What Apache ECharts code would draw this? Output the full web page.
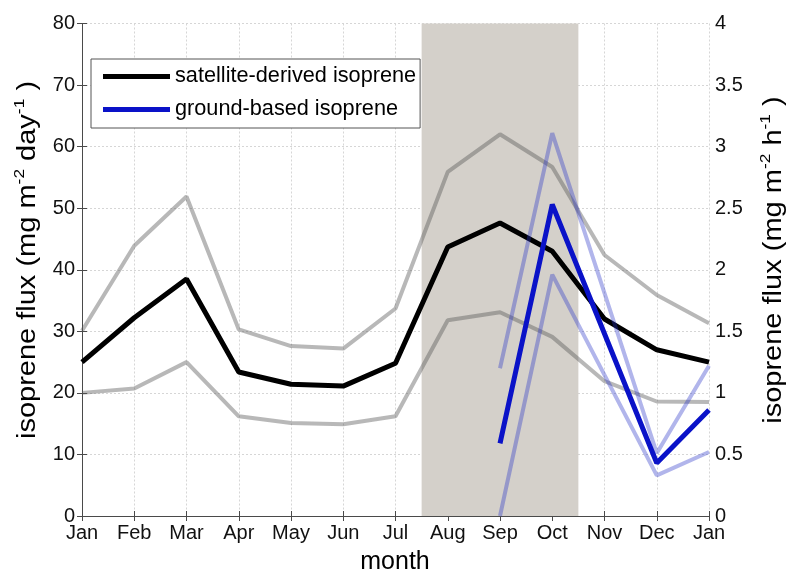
<!DOCTYPE html>
<html>
<head>
<meta charset="utf-8">
<script src="https://cdn.jsdelivr.net/npm/echarts@6/dist/echarts.min.js"></script>
<style>
html,body{margin:0;padding:0;background:#fff;}
#chart{width:787px;height:573px;}
</style>
</head>
<body>
<div id="chart"></div>
<script>
const months = ['Jan','Feb','Mar','Apr','May','Jun','Jul','Aug','Sep','Oct','Nov','Dec','Jan'];
const satMean  = [25.0, 32.2, 38.5, 23.4, 21.4, 21.1, 24.8, 43.7, 47.6, 43.0, 32.0, 27.0, 25.0];
const satUpper = [30.1, 43.9, 51.9, 30.3, 27.6, 27.2, 33.7, 55.9, 62.0, 56.7, 42.4, 35.9, 31.3];
const satLower = [20.0, 20.7, 25.0, 16.2, 15.1, 14.9, 16.2, 31.8, 33.1, 29.1, 21.9, 18.6, 18.5];
const ground      = [null, null, null, null, null, null, null, null, 0.59, 2.53, null, 0.43, 0.86];
const groundUpper = [null, null, null, null, null, null, null, null, 1.20, 3.11, null, 0.51, 1.22];
const groundLower = [null, null, null, null, null, null, null, null, 0.00, 1.96, null, 0.33, 0.52];
const leftTicks = [0, 80, 10];
const rightTicks = [0, 4, 0.5];

const FONT = 'Liberation Sans, Arial, Helvetica, sans-serif';
const pairs = arr => arr.map((v, i) => [i, v]);

const chart = echarts.init(document.getElementById('chart'), null, {renderer: 'canvas'});
const axisLineStyle = {color: '#4a4a4a', width: 1};
const gridLine = {show: true, lineStyle: {color: '#d6d6d6', type: [2, 2], width: 1}};

const titleRich = {
  m: {fontSize: 25, fontFamily: FONT, color: '#000', lineHeight: 32},
  s: {fontSize: 15, fontFamily: FONT, color: '#000', lineHeight: 15, verticalAlign: 'top'}
};

chart.setOption({
  animation: false,
  backgroundColor: '#fff',
  grid: {left: 82, right: 78, top: 23.5, bottom: 57, containLabel: false},
  legend: {
    left: 91, top: 59,
    orient: 'vertical',
    data: ['satellite-derived isoprene', 'ground-based isoprene'],
    icon: 'rect',
    itemWidth: 67, itemHeight: 5,
    itemGap: 10,
    padding: [6, 4, 7, 12],
    borderColor: '#555', borderWidth: 1,
    backgroundColor: '#fff',
    textStyle: {fontSize: 21.7, fontFamily: FONT, color: '#000', lineHeight: 23}
  },
  xAxis: [{
    type: 'value', min: 0, max: 12, interval: 1,
    axisLine: {show: true, lineStyle: axisLineStyle},
    axisTick: {show: true, inside: true, length: 5, lineStyle: axisLineStyle},
    axisLabel: {formatter: v => months[v], fontSize: 20, fontFamily: FONT, color: '#111', margin: 7},
    splitLine: gridLine
  }, {
    type: 'value', min: 0, max: 12, interval: 1, position: 'top',
    axisLine: {show: true, lineStyle: axisLineStyle},
    axisTick: {show: true, inside: true, length: 5, lineStyle: axisLineStyle},
    axisLabel: {show: false},
    splitLine: {show: false}
  }],
  yAxis: [{
    type: 'value', min: leftTicks[0], max: leftTicks[1], interval: leftTicks[2],
    axisLine: {show: true, lineStyle: axisLineStyle},
    axisTick: {show: true, inside: true, length: 5, lineStyle: axisLineStyle},
    axisLabel: {fontSize: 20, fontFamily: FONT, color: '#111', margin: 7},
    splitLine: gridLine
  }, {
    type: 'value', min: rightTicks[0], max: rightTicks[1], interval: rightTicks[2], position: 'right',
    axisLine: {show: true, lineStyle: axisLineStyle},
    axisTick: {show: true, inside: true, length: 5, lineStyle: axisLineStyle},
    axisLabel: {fontSize: 20, fontFamily: FONT, color: '#111', margin: 6},
    splitLine: {show: false}
  }],
  graphic: [{
    type: 'text', x: 28.5, y: 260, rotation: Math.PI / 2, scaleX: 1.16,
    style: {
      text: '{m|isoprene flux (mg m}{s|-2}{m| day}{s|-1}{m| )}',
      rich: titleRich, align: 'center', verticalAlign: 'middle'
    }
  }, {
    type: 'text', x: 774, y: 260, rotation: Math.PI / 2, scaleX: 1.16,
    style: {
      text: '{m|isoprene flux (mg m}{s|-2}{m| h}{s|-1}{m| )}',
      rich: titleRich, align: 'center', verticalAlign: 'middle'
    }
  }, {
    type: 'text', x: 395, y: 562,
    style: {text: 'month', fontSize: 25, fontFamily: FONT, fill: '#000', align: 'center', verticalAlign: 'middle'}
  }],
  series: [{
    name: 'upper', type: 'line', data: pairs(satUpper), symbol: 'none', silent: true,
    lineStyle: {color: 'rgba(85,85,85,0.42)', width: 4}, z: 2,
    markArea: {
      silent: true,
      itemStyle: {color: '#d4d0ca'},
      data: [[{xAxis: 6.5}, {xAxis: 9.5}]],
      z: 1
    }
  }, {
    name: 'lower', type: 'line', data: pairs(satLower), symbol: 'none', silent: true,
    lineStyle: {color: 'rgba(85,85,85,0.42)', width: 4}, z: 2
  }, {
    name: 'satellite-derived isoprene', type: 'line', data: pairs(satMean), symbol: 'none',
    color: '#000', lineStyle: {color: '#000', width: 5}, z: 3
  }, {
    name: 'gupper', type: 'line', yAxisIndex: 1, data: pairs(groundUpper), symbol: 'none', connectNulls: true,
    lineStyle: {color: 'rgba(40,50,200,0.36)', width: 4}, z: 4
  }, {
    name: 'glower', type: 'line', yAxisIndex: 1, data: pairs(groundLower), symbol: 'none', connectNulls: true,
    lineStyle: {color: 'rgba(40,50,200,0.36)', width: 4}, z: 4
  }, {
    name: 'ground-based isoprene', type: 'line', yAxisIndex: 1, data: pairs(ground), symbol: 'none', connectNulls: true,
    color: '#0a12c8', lineStyle: {color: '#0a12c8', width: 5}, z: 5
  }]
});
</script>
</body>
</html>
